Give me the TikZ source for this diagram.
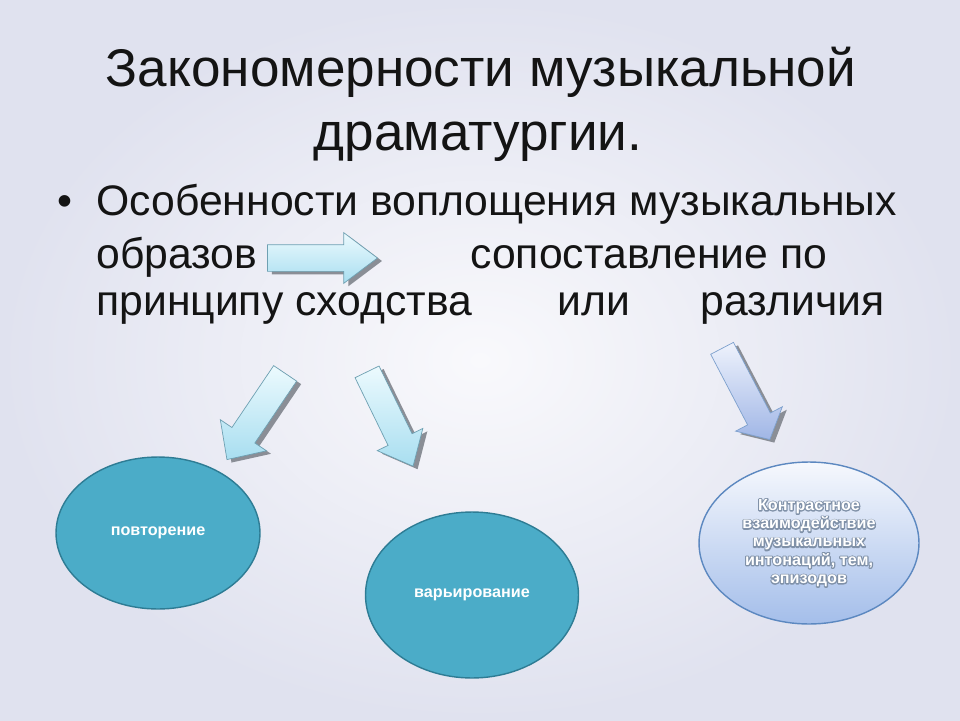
\documentclass[tikz,border=0pt]{standalone}
\usepackage{fontspec}
\setmainfont{Liberation Sans}
\usetikzlibrary{shapes.geometric,shapes.arrows,shadows}
\definecolor{bgedge}{RGB}{224,226,239}
\definecolor{bgmid}{RGB}{249,249,252}
\definecolor{tealfill}{RGB}{75,172,200}
\definecolor{tealline}{RGB}{46,124,148}
\definecolor{paleblue}{RGB}{246,248,253}
\definecolor{softblue}{RGB}{164,190,234}
\definecolor{blueline}{RGB}{92,136,192}
\definecolor{cyantop}{RGB}{236,250,254}
\definecolor{cyanbottom}{RGB}{168,222,240}
\definecolor{cyanline}{RGB}{110,160,178}
\definecolor{lilactop}{RGB}{238,242,252}
\definecolor{lilacbottom}{RGB}{160,182,230}
\definecolor{arrowshadow}{RGB}{138,142,150}
% white letters with a soft grey-blue edge
\newcommand{\haloed}[1]{\rlap{\special{pdf:literal direct 1 Tr 1 j 1.3 w 0.50 0.57 0.66 RG}#1\special{pdf:literal direct 0 Tr}}#1}

\begin{document}
\begin{tikzpicture}[x=0.02cm, y=-0.02cm,
    txt/.style={inner sep=0, anchor=base west, text=black!92, font=\fontsize{24.3}{29}\selectfont},
    heading/.style={inner sep=0, anchor=base, text=black!92, font=\fontsize{30.2}{36}\selectfont},
    blob/.style={ellipse, draw=tealline, line width=0.8pt, fill=tealfill, inner sep=0, text=white,
      font=\bfseries\fontsize{9.2}{10.4}\selectfont, align=center},
    cyanarrow/.style={single arrow, draw=cyanline, line width=0.4pt, top color=cyantop, bottom color=cyanbottom,
      inner xsep=0, single arrow head indent=0, anchor=tip,
      drop shadow={shadow xshift=0.09cm, shadow yshift=-0.06cm, fill=arrowshadow, opacity=1}}]
      \useasboundingbox (0,0) rectangle (960,720);
      \shade[inner color=bgmid, outer color=bgedge] (0,0) rectangle (960,720);

      % Nodes
      \node[heading] (title1) at (481,86) {Закономерности музыкальной};
      \node[heading] (title2) at (478,150) {драматургии.};
      \node[txt] (bullet) at (57,215) {•};
      \node[txt] (line1) at (96,215) {Особенности воплощения музыкальных};
      \node[txt] (images) at (96,268) {образов};
      \node[txt] (compare) at (470,268) {сопоставление по};
      \node[txt] (principle) at (96,315) {принципу сходства};
      \node[txt] (orword) at (557,315) {или};
      \node[txt] (difference) at (700,315) {различия};

      \node[cyanarrow, minimum height=2.2cm, minimum width=1.0cm, inner ysep=0.26cm,
        single arrow head extend=0.24cm, single arrow tip angle=74] (toright) at (378,258) {};
      \node[cyanarrow, rotate=236, minimum height=2.08cm, minimum width=1.1cm, inner ysep=0.27cm,
        single arrow head extend=0.28cm, single arrow tip angle=87] (toleft) at (226.7,460) {};
      \node[cyanarrow, rotate=-64, minimum height=2.1cm, minimum width=1.0cm, inner ysep=0.26cm,
        single arrow head extend=0.24cm, single arrow tip angle=81] (tomiddle) at (413.3,466.7) {};
      \node[cyanarrow, rotate=-62.4, top color=lilactop, bottom color=lilacbottom, draw=blueline!80,
        minimum height=2.06cm, minimum width=1.04cm, inner ysep=0.25cm,
        single arrow head extend=0.27cm, single arrow tip angle=97] (tocontrast) at (770,440) {};

      \node[blob, minimum width=4.08cm, minimum height=3.04cm] (repeat) at (158,533) {повторение};
      \node[blob, minimum width=4.26cm, minimum height=3.32cm] (vary) at (472,595) {варьирование};
      \node[blob, draw=blueline, top color=paleblue, bottom color=softblue, minimum width=4.4cm, minimum height=3.24cm]
        (contrast) at (809,543) {\haloed{Контрастное}\\\haloed{взаимодействие}\\\haloed{музыкальных}\\
          \haloed{интонаций, тем,}\\\haloed{эпизодов}};
    \end{tikzpicture}
\end{document}
